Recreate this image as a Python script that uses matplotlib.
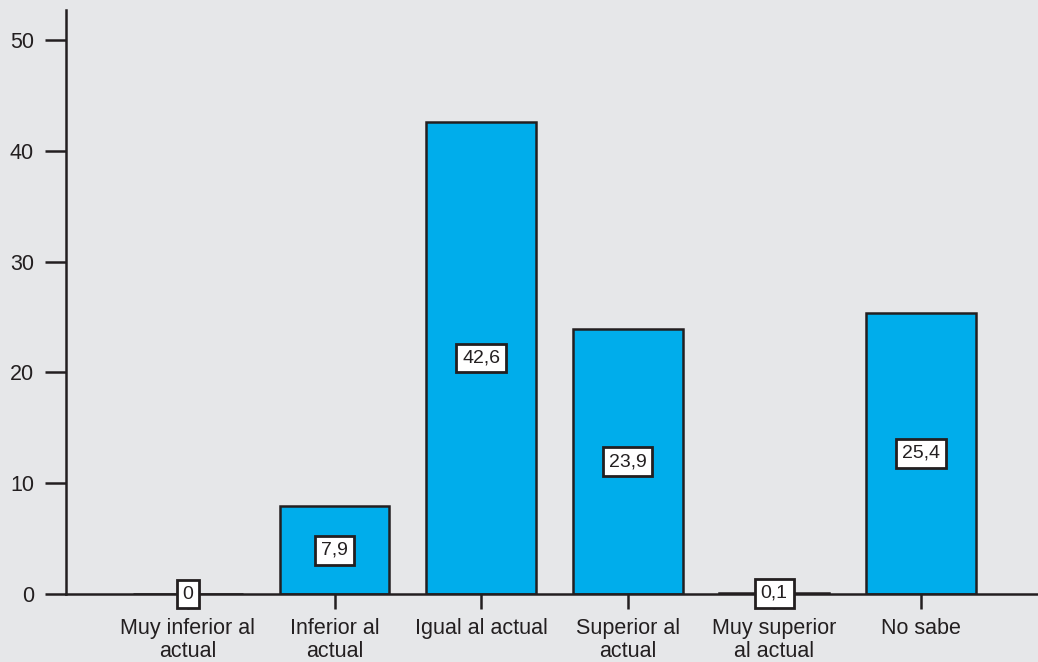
import matplotlib.pyplot as plt

categorias = ["Muy inferior al\nactual", "Inferior al\nactual", "Igual al actual",
              "Superior al\nactual", "Muy superior\nal actual", "No sabe"]
valores = [0, 7.9, 42.6, 23.9, 0.1, 25.4]
etiquetas = ["0", "7,9", "42,6", "23,9", "0,1", "25,4"]

fondo = "#e6e7e9"
azul = "#00adeb"
oscuro = "#231f20"

plt.rcParams['font.family'] = ['Liberation Sans', 'DejaVu Sans']

fig = plt.figure(figsize=(10.38, 6.62), dpi=100, facecolor=fondo)
ax = fig.add_axes([0.0636, 0.1027, 0.9364, 0.8823], facecolor=fondo)

x = range(len(categorias))
ax.bar(x, valores, width=0.75, color=azul, edgecolor=oscuro, linewidth=1.8, zorder=2)

# etiquetas de valor en el centro de cada barra
for i, v in enumerate(valores):
    ax.text(i, v / 2, etiquetas[i], ha='center', va='center', fontsize=14, color=oscuro,
            zorder=4,
            bbox=dict(boxstyle='square,pad=0.3', fc='white', ec=oscuro, lw=2))

ax.set_xlim(-0.832, 5.8)
ax.set_ylim(0, 52.7)
ax.set_yticks([0, 10, 20, 30, 40, 50])
ax.set_xticks(list(x))
ax.set_xticklabels(categorias, fontsize=15.5, color=oscuro, linespacing=1.15)
ax.tick_params(axis='y', labelsize=15.5, labelcolor=oscuro, length=15, width=1.8,
               color=oscuro, pad=8)
ax.tick_params(axis='x', length=11, width=1.8, color=oscuro, pad=6)

for s in ['top', 'right']:
    ax.spines[s].set_visible(False)
for s in ['left', 'bottom']:
    ax.spines[s].set_color(oscuro)
    ax.spines[s].set_linewidth(1.8)

fig.savefig("out.png", dpi=100, facecolor=fondo)
